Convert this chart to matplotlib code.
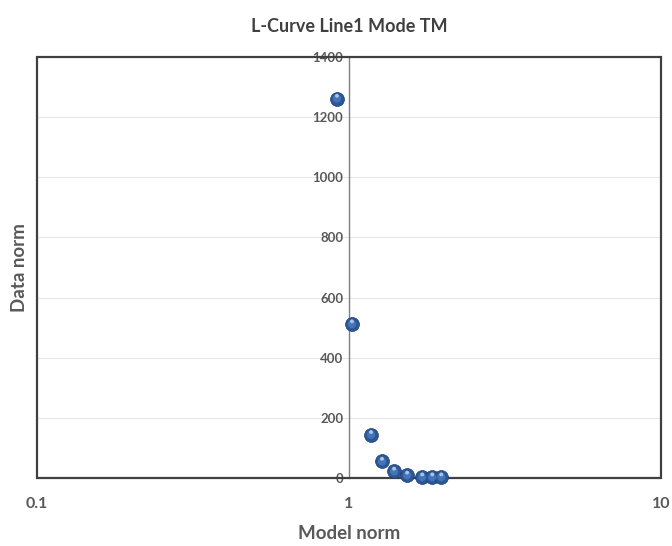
import matplotlib
matplotlib.use('Agg')

import numpy as np
import matplotlib.pyplot as plt
from matplotlib.patches import Rectangle

plt.rcParams['font.family'] = ['Lato', 'DejaVu Sans']

# L-curve points
model_norm = [0.915, 1.022, 1.177, 1.276, 1.395, 1.536, 1.717, 1.849, 1.976]
data_norm = [1262, 512, 144, 55, 22, 9, 3, 3, 3]

yticks = [0, 200, 400, 600, 800, 1000, 1200, 1400]
xticks = [0.1, 1, 10]
xticklabels = ['0.1', '1', '10']

grey = '#595959'

fig = plt.figure(figsize=(6.72, 5.46), dpi=100)
ax = fig.add_axes([0.055, 0.1245, 0.9286, 0.7711])

ax.set_xscale('log')
ax.set_xlim(0.1, 10)
ax.set_ylim(0, 1400)

# grid lines
for y in yticks[1:-1]:
  ax.axhline(y, color='#e6e6e6', lw=0.8, zorder=0)

# y axis crosses at x = 1
for s in ['top', 'right', 'bottom']:
  ax.spines[s].set_visible(False)
ax.spines['left'].set_position(('data', 1))
ax.spines['left'].set_color('#7f7f7f')
ax.spines['left'].set_linewidth(1.0)

# outer frame
ax.add_patch(Rectangle((0, 0), 1, 1, transform=ax.transAxes, fill=False,
                       ec='#404040', lw=1.6, zorder=5, clip_on=False))

ax.set_yticks(yticks)
ax.set_yticklabels([str(v) for v in yticks], color=grey, fontsize=9.5, fontweight='bold')
ax.tick_params(axis='y', length=0, pad=4)

ax.set_xticks(xticks)
ax.set_xticklabels(xticklabels, color=grey, fontsize=11.5, fontweight='bold')
ax.xaxis.set_minor_locator(matplotlib.ticker.NullLocator())
ax.tick_params(axis='x', length=0, pad=14)

# shaded "sphere" markers
ax.scatter(model_norm, data_norm, s=100, c='#2b5797', edgecolors='#1d3d6e',
           linewidths=0.5, zorder=6, clip_on=False)
ax.scatter(model_norm, data_norm, s=35, c='#4a7cc0', edgecolors='none',
           zorder=7, clip_on=False, alpha=0.8)
ax.scatter(model_norm, np.array(data_norm) + 9, s=8, c='#c5d7f0', edgecolors='none',
           zorder=8, clip_on=False, alpha=0.8)

ax.set_xlabel('Model norm', color=grey, fontsize=13.5, fontweight='bold', labelpad=10)
ax.set_ylabel('Data norm', color=grey, fontsize=13.5, fontweight='bold')
ax.yaxis.set_label_coords(-0.015, 0.5, transform=ax.transAxes)
ax.set_title('L-Curve Line1 Mode TM', color='#404040', fontsize=13,
             fontweight='bold', pad=18)

fig.savefig('out.png', dpi=100)
